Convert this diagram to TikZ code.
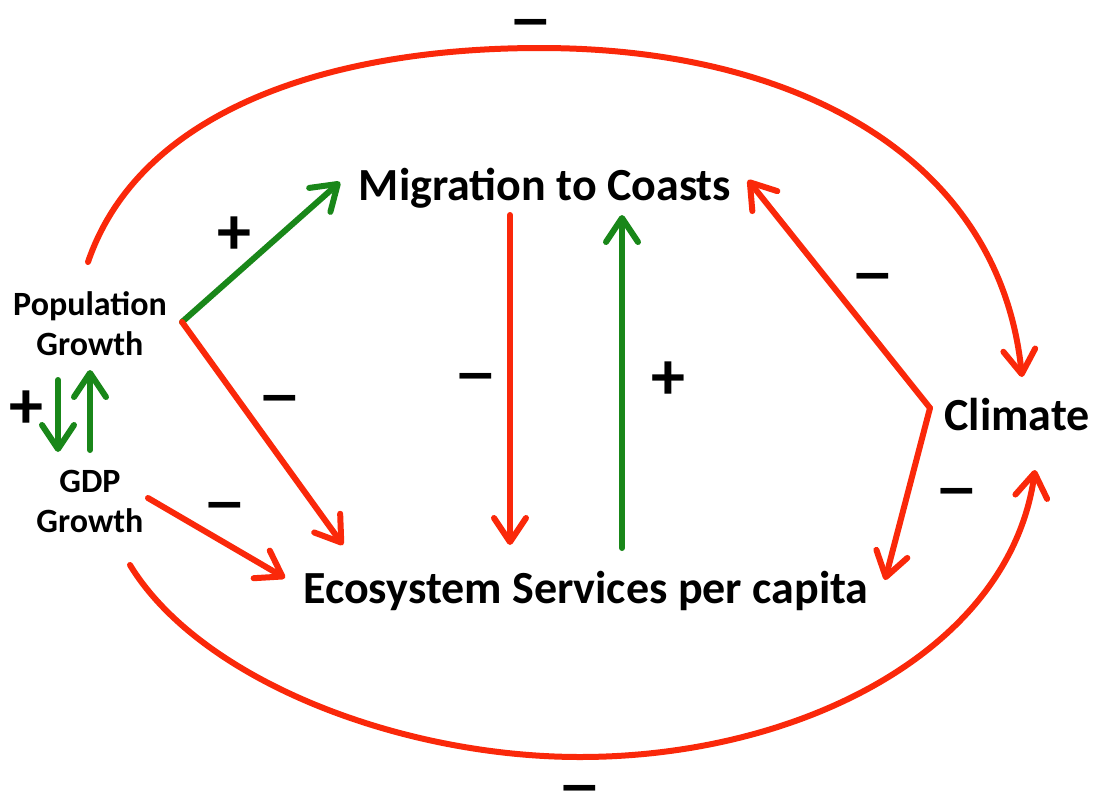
\documentclass[tikz,border=0pt]{standalone}
\usepackage{fontspec}
\setmainfont{Carlito}
\usetikzlibrary{arrows.meta}
\definecolor{cred}{RGB}{250,40,10}
\definecolor{cgreen}{RGB}{25,135,25}
\newcommand{\mn}{\scalebox{1.6}[1.15]{–}}
\begin{document}
\begin{tikzpicture}[x=1pt,y=-1pt,
  big/.style={font=\bfseries\fontsize{46}{50}\selectfont, inner sep=0, anchor=base},
  small/.style={font=\bfseries\fontsize{34}{40}\selectfont, inner sep=0, anchor=base},
  sign/.style={font=\bfseries\fontsize{68}{68}\selectfont, inner sep=0},
  minus/.style={font=\bfseries\fontsize{56}{56}\selectfont, inner sep=0, anchor=base},
  arr/.style={line width=6pt, line cap=round, -{Straight Barb[length=24pt,width=32pt,line width=6pt,round]}},
  redarr/.style={arr, cred},
  greenarr/.style={arr, cgreen}]
\useasboundingbox (0,0) rectangle (1093,796);
% text nodes
\node[big] (mig) at (545,200) {Migration to Coasts};
\node[big] (eco) at (586,603) {Ecosystem Services per capita};
\node[big] (cli) at (1017,430) {Climate};
\node[small] (pop1) at (90,315) {Population};
\node[small] (pop2) at (90,355) {Growth};
\node[small] (gdp1) at (90,492) {GDP};
\node[small] (gdp2) at (90,532) {Growth};
% coordinates
\coordinate (pv) at (182,322);
\coordinate (migin) at (340,182);
\coordinate (ecoin1) at (343,545);
\coordinate (gdpout) at (148,498);
\coordinate (ecoin2) at (285,578);
\coordinate (gd1) at (58,380);
\coordinate (gd2) at (58,452);
\coordinate (gu1) at (90,450);
\coordinate (gu2) at (90,370);
\coordinate (rv1) at (510,215);
\coordinate (rv2) at (510,545);
\coordinate (gv1) at (622,548);
\coordinate (gv2) at (622,215);
\coordinate (cv) at (930,408);
\coordinate (migin2) at (748,180);
\coordinate (ecoin3) at (885,580);
\coordinate (ta) at (88,262);
\coordinate (tb) at (1022,377);
\coordinate (ba) at (130,565);
\coordinate (bb) at (1035,470);
% connectors
\draw[greenarr] (pv) -- (migin);
\draw[redarr] (pv) -- (ecoin1);
\draw[redarr] (gdpout) -- (ecoin2);
\draw[greenarr] (gd1) -- (gd2);
\draw[greenarr] (gu1) -- (gu2);
\draw[redarr] (rv1) -- (rv2);
\draw[greenarr] (gv1) -- (gv2);
\draw[redarr] (cv) -- (migin2);
\draw[redarr] (cv) -- (ecoin3);
\draw[redarr] (ta) .. controls (140,110) and (330,48) .. (540,48) .. controls (800,48) and (1000,160) .. (tb);
\draw[redarr] (ba) .. controls (200,680) and (400,757) .. (580,757) .. controls (800,757) and (1010,650) .. (bb);
% signs
\node[minus] (s1) at (531,40) {\mn};
\node[minus] (s2) at (580,806) {\mn};
\node[sign] (s3) at (234,236) {+};
\node[minus] (s4) at (280,416) {\mn};
\node[minus] (s5) at (225,523) {\mn};
\node[sign] (s6) at (26,410) {+};
\node[minus] (s7) at (476,394) {\mn};
\node[sign] (s8) at (668,381) {+};
\node[minus] (s9) at (873,294) {\mn};
\node[minus] (s10) at (957,509) {\mn};
\end{tikzpicture}
\end{document}
